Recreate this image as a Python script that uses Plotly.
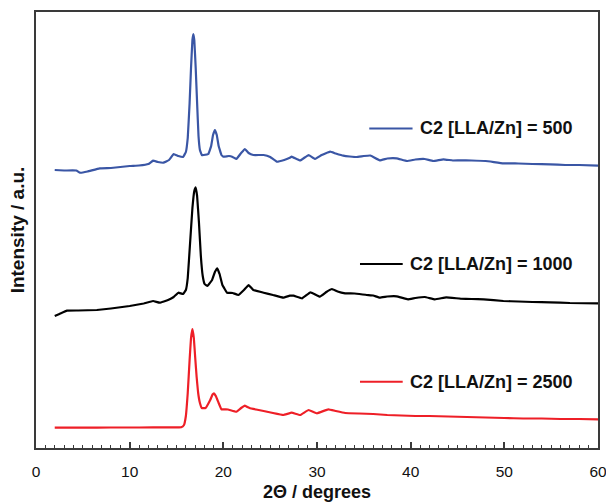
import plotly.graph_objects as go

# XRD patterns (2-theta in degrees, intensity in a.u., stacked offsets included)
tt_500 = [2.0, 3.0, 4.3, 4.7, 5.5, 6.8, 8.0, 9.0, 10.0, 11.0, 12.0, 12.5, 13.0, 13.6,
          14.2, 14.7, 15.2, 15.7, 16.0, 16.2, 16.4, 16.55, 16.7, 16.8, 16.9, 17.05, 17.2,
          17.35, 17.5, 17.7, 17.9, 18.4, 18.7, 18.9, 19.1, 19.3, 19.5, 19.8, 20.0,
          20.6, 21.0, 21.4, 21.9, 22.3, 22.7,
          23.2, 24.3, 25.0, 25.7, 26.5, 27.1, 27.3, 28.2, 29.1, 29.8, 30.5, 31.4,
          32.0, 32.8, 33.5, 34.2, 35.0, 35.7, 36.7, 37.5, 38.5, 39.6, 40.5, 41.5,
          42.4, 43.5, 44.5, 45.3, 46.5, 48.0, 49.9, 51.5, 53.0, 54.9, 56.5, 58.0, 60.0]
int_500 = [278, 277.5, 277.5, 275.3, 276.5, 279.7, 280, 281, 282, 282.5, 284, 287.3, 286, 285.3,
           288, 294, 292, 291, 296, 310, 345, 380, 408, 414, 408, 380, 345,
           312, 298, 293, 293, 294, 302, 313, 318, 313, 302, 293, 291.3,
           292, 291, 289, 295, 299, 295,
           293, 293, 291, 286.3, 288, 290.3, 291.3, 287.5, 293, 289, 293, 296.3,
           294.5, 292.3, 291.5, 291, 292, 292.5, 287.7, 289.5, 289.7, 287, 288.5, 289,
           287, 288.7, 287.5, 287.7, 287.5, 287, 284.7, 284.5, 284, 283.7, 283, 283, 282.3]

tt_1000 = [2.0, 2.5, 3.3, 4.5, 6.5, 8.0, 10.0, 11.5, 12.5, 13.2, 14.1, 14.7, 15.2, 15.7,
           16.0, 16.2, 16.45, 16.7, 16.9, 17.05, 17.2, 17.4, 17.6, 17.8, 18.0, 18.3,
           18.8, 19.1, 19.35, 19.6, 19.9, 20.4,
           21.0, 21.6, 22.2, 22.7, 23.2, 24.3, 25.3, 26.4, 27.1, 27.5, 28.4, 29.3,
           30.3, 31.0, 31.6, 32.2, 33.0, 34.0, 35.3, 36.0, 36.7, 37.5, 38.5, 39.7,
           40.5, 41.5, 42.6, 43.8, 45.3, 46.5, 47.8, 49.9, 51.5, 53.0, 54.9, 57.0, 60.0]
int_1000 = [132, 134, 137.3, 137.5, 138, 139.5, 142, 144.5, 147, 145.3, 148, 151, 155.3, 154,
            158, 170, 205, 240, 257, 260.7, 252, 225, 192, 172, 164, 162,
            168, 176, 179.7, 174, 163, 155.3,
            155, 153, 158, 163, 158, 155.3, 153, 150.3, 152.3, 152.3, 149.7, 155.7,
            151.3, 156, 159, 156.5, 154.7, 154.5, 153, 152.5, 150.3, 151.5, 151.7, 148.7,
            150, 151, 148.7, 150.7, 149.3, 149, 148.7, 147, 146.5, 146, 145.7, 145, 144.7]

tt_2500 = [2.0, 5.0, 8.0, 11.0, 14.0, 15.5, 15.8, 16.0, 16.2, 16.4, 16.55, 16.7, 16.85, 17.0,
           17.15, 17.3, 17.5, 17.7, 18.1, 18.6, 18.85, 19.0, 19.2, 19.5, 19.8, 20.5, 21.4,
           21.9, 22.3, 22.8, 23.5, 24.3, 25.3, 26.4, 27.3, 28.2, 29.1, 30.0, 31.2, 32.0, 33.0,
           34.5, 36.0, 37.5, 39.0, 40.5, 42.0, 44.0, 46.0, 48.0, 50.0, 52.0, 54.0,
           56.0, 58.0, 60.0]
int_2500 = [20.3, 20.3, 20.5, 20.5, 20.6, 20.7, 23, 32, 55, 88, 110, 119, 110, 90,
            71, 56, 45, 40, 40, 48, 53.5, 54.7, 52, 45, 38.7, 38.5, 36.3,
            40, 42.3, 40, 38.5, 37, 35, 33, 35.3, 33, 38, 34.7, 38.7, 37, 35,
            34.5, 34, 33, 32.5, 32, 32, 31.5, 31, 30.5, 30, 29.5, 29.5,
            29, 29, 28.7]

labels = ["C2 [LLA/Zn] = 500", "C2 [LLA/Zn] = 1000", "C2 [LLA/Zn] = 2500"]
colors = ["#3a56a5", "#000000", "#ee1f27"]
series = [(tt_500, int_500), (tt_1000, int_1000), (tt_2500, int_2500)]

# key positions (paper coords): line start, line end, text right edge, y
keys = [(0.593, 0.670, 0.959, 0.733),
        (0.5765, 0.6525, 0.959, 0.422),
        (0.5765, 0.6525, 0.959, 0.152)]

FONT = "Arial, Liberation Sans, sans-serif"
AXC = "#3a3a3a"

fig = go.Figure()
for (x, y), name, c in zip(series, labels, colors):
    fig.add_trace(go.Scatter(x=x, y=y, mode="lines", name=name,
                             line=dict(color=c, width=2.2, shape="spline", smoothing=0.2),
                             showlegend=False))

shapes = []
annotations = []
for (x0, x1, xt, yk), name, c in zip(keys, labels, colors):
    shapes.append(dict(type="line", xref="paper", yref="paper", x0=x0, x1=x1, y0=yk, y1=yk,
                       line=dict(color=c, width=2)))
    annotations.append(dict(xref="paper", yref="paper", x=xt, y=yk, text="<b>" + name + "</b>",
                            showarrow=False, xanchor="right", yanchor="middle",
                            font=dict(family=FONT, size=18, color="#111111")))

fig.update_layout(
    width=606, height=502,
    margin=dict(l=36, r=8, t=12, b=54),
    paper_bgcolor="white", plot_bgcolor="white",
    shapes=shapes, annotations=annotations,
    font=dict(family=FONT, color="#111111"),
    xaxis=dict(range=[0, 60], tickmode="linear", tick0=0, dtick=10, automargin=False,
               ticks="inside", ticklen=6, tickwidth=1.5, tickcolor=AXC,
               minor=dict(ticks="inside", dtick=1, ticklen=3.5, tickwidth=1.2, tickcolor=AXC),
               showline=True, linecolor=AXC, linewidth=2, mirror=True,
               showgrid=False, zeroline=False, ticklabelstandoff=8,
               ticklabeloverflow="allow",
               tickfont=dict(family=FONT, size=15.5, color="#111111"),
               title=dict(text="<b>2Θ / degrees</b>", font=dict(family=FONT, size=18, color="#111111"),
                          standoff=10)),
    yaxis=dict(range=[0, 436], showticklabels=False, ticks="", automargin=False,
               showline=True, linecolor=AXC, linewidth=2, mirror=True,
               showgrid=False, zeroline=False,
               title=dict(text="<b>Intensity / a.u.</b>", font=dict(family=FONT, size=19, color="#111111"),
                          standoff=4)),
)

fig.write_html("out.html")
